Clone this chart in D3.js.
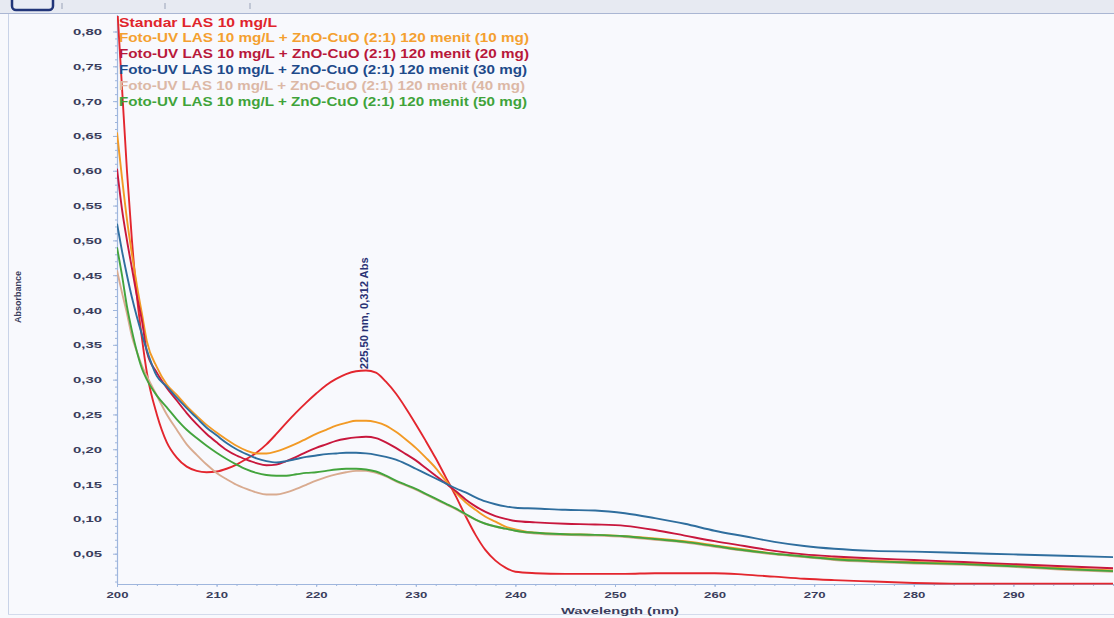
<!DOCTYPE html>
<html><head><meta charset="utf-8">
<script src="https://cdn.jsdelivr.net/npm/d3@7"></script>
<style>body{margin:0;background:#f8f9fd;}svg{display:block}</style>
</head><body>
<svg id="c" width="1114" height="618"></svg>
<script>
const wavelengths = [200,200.5,201,201.5,202,202.5,203,204,205,206,207,208,209,210,211,212,213,214,215,216,217,218,219,220,221,222,223,224,225,226,227,228,229,230,231,232,233,234,235,236,237,238,239,240,242,245,248,251,254,257,260,263,266,269,272,276,280,285,290,295,300];
const standar = [0.84,0.72,0.60,0.50,0.42,0.36,0.31,0.25,0.21,0.188,0.175,0.169,0.167,0.168,0.172,0.178,0.186,0.195,0.207,0.222,0.238,0.253,0.267,0.280,0.292,0.301,0.308,0.312,0.313,0.310,0.297,0.280,0.259,0.236,0.212,0.187,0.160,0.133,0.104,0.077,0.055,0.040,0.030,0.024,0.022,0.021,0.021,0.021,0.022,0.022,0.022,0.020,0.017,0.014,0.012,0.010,0.008,0.007,0.007,0.007,0.007];
const uv10mg = [0.655,0.59,0.53,0.48,0.435,0.395,0.355,0.318,0.293,0.278,0.262,0.248,0.235,0.224,0.214,0.205,0.198,0.194,0.194,0.197,0.202,0.208,0.215,0.222,0.228,0.234,0.238,0.241,0.241,0.239,0.234,0.225,0.214,0.202,0.188,0.173,0.155,0.138,0.124,0.113,0.103,0.096,0.089,0.085,0.080,0.078,0.077,0.075,0.072,0.068,0.062,0.056,0.050,0.046,0.043,0.040,0.038,0.036,0.033,0.029,0.026];
const uv20mg = [0.603,0.545,0.50,0.46,0.42,0.385,0.34,0.31,0.288,0.27,0.252,0.236,0.222,0.21,0.199,0.191,0.185,0.18,0.177,0.178,0.183,0.189,0.196,0.202,0.207,0.212,0.215,0.217,0.218,0.216,0.21,0.202,0.193,0.184,0.173,0.162,0.151,0.14,0.128,0.118,0.11,0.104,0.1,0.097,0.095,0.093,0.092,0.09,0.084,0.076,0.068,0.061,0.054,0.049,0.046,0.043,0.041,0.038,0.035,0.032,0.029];
const uv30mg = [0.524,0.485,0.45,0.418,0.39,0.365,0.342,0.305,0.29,0.274,0.259,0.245,0.231,0.22,0.209,0.2,0.193,0.187,0.183,0.181,0.183,0.186,0.189,0.191,0.193,0.194,0.195,0.195,0.194,0.192,0.189,0.185,0.179,0.172,0.165,0.158,0.151,0.144,0.138,0.131,0.125,0.121,0.118,0.116,0.115,0.113,0.112,0.108,0.101,0.093,0.083,0.075,0.067,0.061,0.057,0.054,0.053,0.051,0.049,0.047,0.045];
const uv40mg = [0.457,0.425,0.395,0.362,0.34,0.32,0.305,0.277,0.25,0.228,0.207,0.192,0.178,0.166,0.157,0.149,0.143,0.138,0.135,0.135,0.138,0.143,0.149,0.155,0.16,0.164,0.167,0.169,0.169,0.166,0.161,0.154,0.148,0.142,0.135,0.128,0.121,0.114,0.106,0.099,0.093,0.089,0.086,0.083,0.079,0.077,0.076,0.074,0.07,0.066,0.06,0.054,0.049,0.045,0.041,0.038,0.036,0.034,0.031,0.027,0.024];
const uv50mg = [0.49,0.45,0.405,0.37,0.34,0.316,0.3,0.277,0.26,0.243,0.228,0.216,0.205,0.195,0.186,0.178,0.171,0.166,0.163,0.162,0.162,0.164,0.166,0.167,0.169,0.171,0.172,0.172,0.171,0.168,0.162,0.155,0.149,0.143,0.136,0.129,0.122,0.115,0.107,0.099,0.093,0.089,0.086,0.083,0.080,0.078,0.077,0.075,0.071,0.067,0.061,0.055,0.05,0.046,0.042,0.039,0.037,0.035,0.032,0.028,0.025];

const seriesNames = [
  "Standar LAS 10 mg/L",
  "Foto-UV LAS 10 mg/L + ZnO-CuO (2:1) 120 menit (10 mg)",
  "Foto-UV LAS 10 mg/L + ZnO-CuO (2:1) 120 menit (20 mg)",
  "Foto-UV LAS 10 mg/L + ZnO-CuO (2:1) 120 menit (30 mg)",
  "Foto-UV LAS 10 mg/L + ZnO-CuO (2:1) 120 menit (40 mg)",
  "Foto-UV LAS 10 mg/L + ZnO-CuO (2:1) 120 menit (50 mg)"
];
const seriesValues = [standar, uv10mg, uv20mg, uv30mg, uv40mg, uv50mg];
const lineColors = ["#e3262e","#f29a25","#c8173d","#2f6e9e","#d9ab90","#43a43d"];
const legendColors = ["#e0242b","#f4a030","#b8183a","#1e4a8a","#dcb8a6","#3fa33a"];
const xTicks = [200,210,220,230,240,250,260,270,280,290];
const yTicks = [0.05,0.10,0.15,0.20,0.25,0.30,0.35,0.40,0.45,0.50,0.55,0.60,0.65,0.70,0.75,0.80];
const peakLabel = "225,50 nm, 0,312 Abs";
const peakWavelength = 225.5, peakValue = 0.312;

const svg = d3.select("#c");
const W = 1114, H = 618;
const x = d3.scaleLinear().domain([200,300]).range([117,1113]);
const y = d3.scaleLinear().domain([0,0.8]).range([588.5,31.5]);
const axisY = 584, topY = 15;

// background
svg.append("rect").attr("width",W).attr("height",H).attr("fill","#f8f9fd");
// top toolbar strip
svg.append("rect").attr("x",0).attr("y",0).attr("width",W).attr("height",13).attr("fill","#e7eaf2");
svg.append("line").attr("x1",0).attr("x2",W).attr("y1",13.5).attr("y2",13.5).attr("stroke","#aab6d3").attr("stroke-width",1.2);
svg.append("rect").attr("x",12).attr("y",-6).attr("width",41).attr("height",16).attr("rx",4)
  .attr("fill","#e9ecf5").attr("stroke","#22367a").attr("stroke-width",2.5);
[62,165,250].forEach(px=>svg.append("line").attr("x1",px).attr("x2",px).attr("y1",3).attr("y2",9).attr("stroke","#9aa3b8"));
// frame
svg.append("line").attr("x1",8.5).attr("x2",8.5).attr("y1",14).attr("y2",614).attr("stroke","#c9d3e8");
svg.append("line").attr("x1",8).attr("x2",W).attr("y1",614.5).attr("y2",614.5).attr("stroke","#d3dbec");

// axes
const axisColor = "#9fb6dd";
const labelColor = "#3a3d5c";
const gy = svg.append("g").attr("transform","translate(117,0)");
gy.call(d3.axisLeft(y).tickValues(d3.range(1,81).map(i=>i/100)).tickSize(2).tickFormat(""));
gy.call(g=>g.select(".domain").remove());
gy.selectAll("line").attr("stroke",axisColor);
const gy2 = svg.append("g").attr("transform","translate(117,0)");
gy2.call(d3.axisLeft(y).tickValues(yTicks).tickSize(4).tickPadding(11).tickFormat(d=>d.toFixed(2).replace(".",",")));
gy2.select(".domain").remove();
gy2.selectAll("line").attr("stroke",axisColor);
gy2.selectAll("text").attr("fill",labelColor).style("font-family","Liberation Sans, Arial, sans-serif")
  .style("font-size","9.5px").style("font-weight","bold").attr("textLength",29).attr("lengthAdjust","spacingAndGlyphs");
svg.append("line").attr("x1",117.5).attr("x2",117.5).attr("y1",topY).attr("y2",axisY).attr("stroke",axisColor).attr("stroke-width",1.2);

const gx = svg.append("g").attr("transform",`translate(0,${axisY})`);
gx.call(d3.axisBottom(x).tickValues(d3.range(200,301,2)).tickSize(2).tickFormat(""));
gx.select(".domain").remove();
gx.selectAll("line").attr("stroke",axisColor);
const gx2 = svg.append("g").attr("transform",`translate(0,${axisY})`);
gx2.call(d3.axisBottom(x).tickValues(xTicks).tickSize(3).tickPadding(4).tickFormat(d3.format("d")));
gx2.select(".domain").remove();
gx2.selectAll("line").attr("stroke",axisColor);
gx2.selectAll("text").attr("fill",labelColor).style("font-family","Liberation Sans, Arial, sans-serif")
  .style("font-size","9.5px").style("font-weight","bold").attr("textLength",22).attr("lengthAdjust","spacingAndGlyphs");
svg.append("line").attr("x1",117).attr("x2",W).attr("y1",axisY+0.5).attr("y2",axisY+0.5).attr("stroke",axisColor).attr("stroke-width",1.2);

// axis titles
svg.append("text").attr("transform","translate(21,297) rotate(-90)").attr("text-anchor","middle")
  .attr("fill",labelColor).style("font-family","Liberation Sans, Arial, sans-serif").style("font-size","9px").style("font-weight","bold")
  .text("Absorbance");
svg.append("text").attr("x",620).attr("y",614).attr("text-anchor","middle")
  .attr("fill",labelColor).style("font-family","Liberation Sans, Arial, sans-serif").style("font-size","9.5px").style("font-weight","bold")
  .attr("textLength",118).attr("lengthAdjust","spacingAndGlyphs")
  .text("Wavelength (nm)");

// clip
svg.append("clipPath").attr("id","plot").append("rect").attr("x",117).attr("y",16).attr("width",W-117).attr("height",axisY-16+1);

const line = d3.line().x((d,i)=>x(wavelengths[i])).y(d=>y(d)).curve(d3.curveMonotoneX);
const gl = svg.append("g").attr("clip-path","url(#plot)");
seriesValues.forEach((vals,k)=>{
  gl.append("path").attr("d",line(vals)).attr("fill","none").attr("stroke",lineColors[k])
    .attr("stroke-width",1.9).attr("stroke-linejoin","round");
});

// peak annotation
svg.append("text").attr("transform",`translate(${x(peakWavelength)-6},${y(peakValue)-2}) rotate(-90)`)
  .attr("dominant-baseline","central").attr("fill","#2a3275")
  .style("font-family","Liberation Sans, Arial, sans-serif").style("font-size","10px").style("font-weight","bold")
  .attr("textLength",112).attr("lengthAdjust","spacingAndGlyphs").text(peakLabel);

// legend
const legendLens = [158,410,410,408,406,408];
seriesNames.forEach((t,k)=>{
  svg.append("text").attr("x",119).attr("y",22.5+15.9*k).attr("dominant-baseline","central")
    .attr("fill",legendColors[k]).style("font-family","Liberation Sans, Arial, sans-serif")
    .style("font-size","12px").style("font-weight","bold")
    .attr("textLength",legendLens[k]).attr("lengthAdjust","spacingAndGlyphs").text(t);
});
</script>
</body></html>
